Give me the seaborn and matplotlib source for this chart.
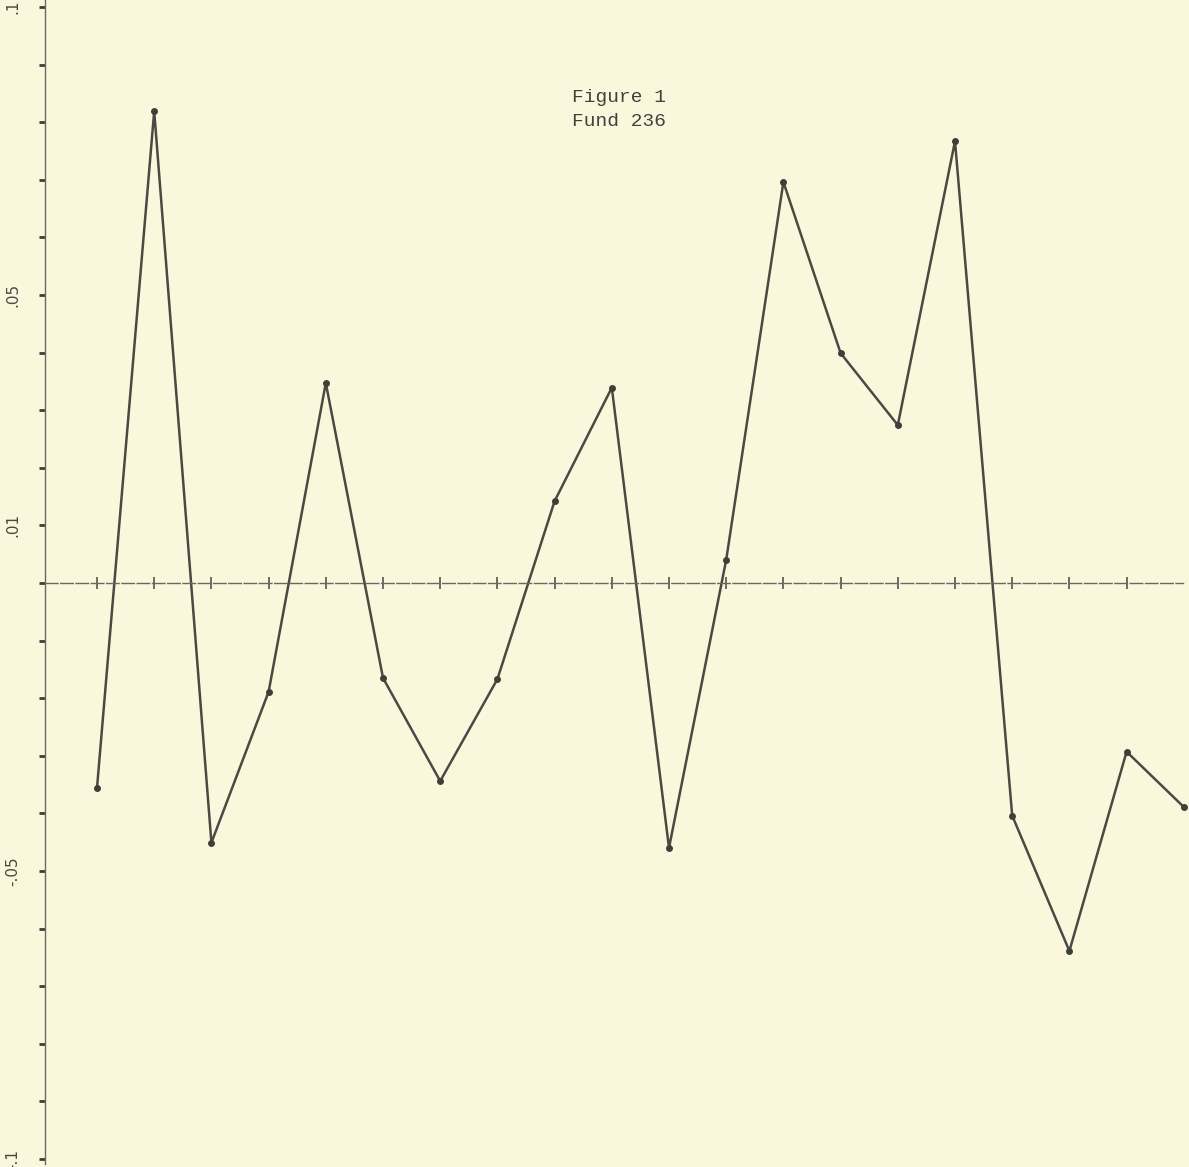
import matplotlib
matplotlib.use("Agg")
import matplotlib.pyplot as plt
import seaborn as sns
import pandas as pd

# Period index and plotted returns for Fund 236
periods = list(range(1, 21))
returns = [-0.0356, 0.0819, -0.0451, -0.0189, 0.0347, -0.0165, -0.0344, -0.0167, 0.0142, 0.0339,
           -0.0460, 0.0040, 0.0696, 0.0399, 0.0274, 0.0767, -0.0404, -0.0639, -0.0293, -0.0389]

# Tick marks along the zero line
xtick_values = list(range(1, 20))

# Y tick positions and the few labels written beside them
ytick_values = [round(-0.10 + 0.01 * i, 2) for i in range(21)]
ytick_text = {0.10: ".1", 0.05: ".05", 0.01: ".01", -0.05: "-.05", -0.10: "-.1"}

title_lines = ["Figure 1", "Fund 236"]

paper = "#FBF7DD"
ink = "#4B4A42"

sns.set_theme(style="white")
plt.rcParams["font.family"] = ["DejaVu Sans"]

fig = plt.figure(figsize=(11.89, 11.67), dpi=100)
fig.patch.set_facecolor(paper)
ax = fig.add_axes([0, 0, 1, 1])
ax.set_facecolor(paper)

df = pd.DataFrame({"period": periods, "ret": returns})
sns.lineplot(data=df, x="period", y="ret", ax=ax, color=ink, linewidth=1.8,
             marker="o", markersize=5, markeredgewidth=0, markerfacecolor="#3f3e37")

ax.set_xlim(-0.696, 20.091)
ax.set_ylim(-0.1014, 0.1012)

# Axes drawn through the origin, like a hand-ruled graph
for side in ("top", "right"):
    ax.spines[side].set_visible(False)
ax.spines["left"].set_position(("data", 0.091))
ax.spines["left"].set_bounds(-0.1008, 0.1012)
ax.spines["left"].set_color("#6a6960")
ax.spines["left"].set_linewidth(1.0)
ax.spines["bottom"].set_position(("data", 0))
ax.spines["bottom"].set_bounds(0.091, 19.986)
ax.spines["bottom"].set_color("#6a6960")
ax.spines["bottom"].set_linewidth(1.0)
ax.spines["bottom"].set_linestyle((0, (9, 2)))

ax.set_xticks(xtick_values)
ax.set_xticklabels([])
ax.tick_params(axis="x", direction="inout", length=8, width=1.2, color="#55544c", bottom=True)

ax.set_yticks(ytick_values)
ax.set_yticklabels([ytick_text.get(v, "") for v in ytick_values], rotation=90,
                   va="center", fontsize=11, color="#4a4940")
ax.tick_params(axis="y", direction="out", length=4, width=2, color="#3f3e37", left=True, pad=14)

ax.set_xlabel("")
ax.set_ylabel("")

# Typed caption near the top centre
for line, ypix in zip(title_lines, (97, 121)):
    fig.text(572 / 1189, 1 - ypix / 1167, line, fontsize=14, family="Liberation Mono",
             color="#45413a", va="center", ha="left")

fig.savefig("out.png", dpi=100, facecolor=paper)
